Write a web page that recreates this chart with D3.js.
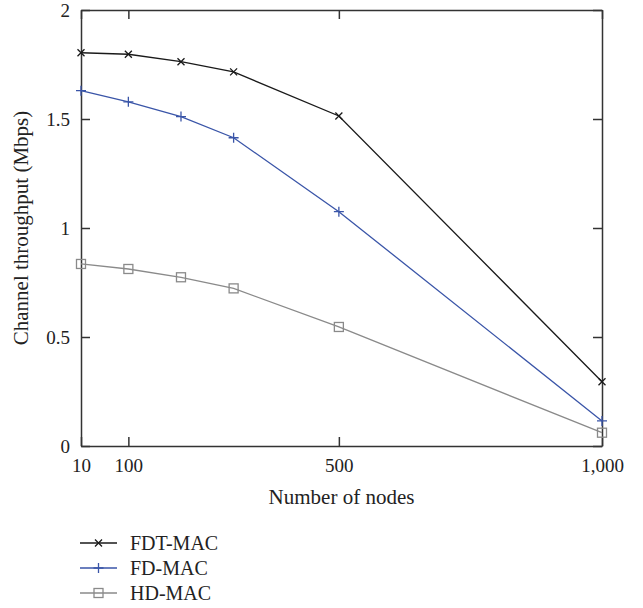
<!DOCTYPE html>
<html><head><meta charset="utf-8">
<script src="https://cdn.jsdelivr.net/npm/d3@7"></script>
<style>body{margin:0;background:#fff}svg{display:block}text{font-family:"Liberation Serif","DejaVu Serif",serif;fill:#222}</style>
</head><body><svg id="c" width="643" height="608"></svg>
<script>
const nodes = [10, 100, 200, 300, 500, 1000];
const fdtMac = [1.804, 1.797, 1.763, 1.716, 1.514, 0.295];
const fdMac = [1.630, 1.579, 1.511, 1.414, 1.075, 0.115];
const hdMac = [0.835, 0.812, 0.774, 0.723, 0.546, 0.061];
const xTicks = [10, 100, 500, 1000];
const xTickLabels = ["10", "100", "500", "1,000"];
const yTicks = [0, 0.5, 1, 1.5, 2];
const yTickLabels = ["0", "0.5", "1", "1.5", "2"];
const seriesNames = ["FDT-MAC", "FD-MAC", "HD-MAC"];

const svg = d3.select("#c");
const L = 81, R = 602, T = 10, B = 446;
const x = d3.scaleLinear().domain([10, 1000]).range([L, R]);
const y = d3.scaleLinear().domain([0, 2]).range([B, T]);

const series = [
  {name: seriesNames[0], vals: fdtMac, color: "#1a1a1a", marker: "x"},
  {name: seriesNames[1], vals: fdMac, color: "#3a55a8", marker: "plus"},
  {name: seriesNames[2], vals: hdMac, color: "#8a8a8a", marker: "square"}
];

const axisColor = "#333";
function styleAxis(g){
  g.selectAll("path,line").attr("stroke", axisColor).attr("stroke-width", 1.5);
  g.selectAll("text").style("font-size", "19px").attr("fill", "#222");
}
svg.append("g").attr("transform", `translate(0,${B})`)
  .call(d3.axisBottom(x).tickValues(xTicks).tickFormat((d,i)=>xTickLabels[i]).tickSizeInner(-9).tickSizeOuter(0).tickPadding(13))
  .call(styleAxis);
svg.append("g").attr("transform", `translate(0,${T})`)
  .call(d3.axisTop(x).tickValues(xTicks).tickFormat("").tickSizeInner(-9).tickSizeOuter(0))
  .call(styleAxis);
svg.append("g").attr("transform", `translate(${L},0)`)
  .call(d3.axisLeft(y).tickValues(yTicks).tickFormat((d,i)=>yTickLabels[i]).tickSizeInner(-9).tickSizeOuter(0).tickPadding(11))
  .call(styleAxis);
svg.append("g").attr("transform", `translate(${R},0)`)
  .call(d3.axisRight(y).tickValues(yTicks).tickFormat("").tickSizeInner(-9).tickSizeOuter(0))
  .call(styleAxis);

svg.append("text").attr("x", (L+R)/2).attr("y", 504).attr("text-anchor", "middle")
  .style("font-size", "21px").text("Number of nodes");
svg.append("text").attr("transform", `translate(28,${(T+B)/2}) rotate(-90)`).attr("text-anchor", "middle")
  .style("font-size", "21px").text("Channel throughput (Mbps)");

function drawMarker(g, type, cx, cy, color){
  if(type === "x"){
    const s = 3.5;
    g.append("path").attr("d", `M${cx-s},${cy-s}L${cx+s},${cy+s}M${cx-s},${cy+s}L${cx+s},${cy-s}`)
      .attr("stroke", color).attr("stroke-width", 1.3).attr("fill", "none");
  } else if(type === "plus"){
    const s = 5;
    g.append("path").attr("d", `M${cx-s},${cy}L${cx+s},${cy}M${cx},${cy-s}L${cx},${cy+s}`)
      .attr("stroke", color).attr("stroke-width", 1.3).attr("fill", "none");
  } else {
    const s = 4.5;
    g.append("rect").attr("x", cx-s).attr("y", cy-s).attr("width", 2*s).attr("height", 2*s)
      .attr("stroke", color).attr("stroke-width", 1.3).attr("fill", "none");
  }
}

const line = d3.line().x(d=>x(d[0])).y(d=>y(d[1]));
series.forEach(s => {
  const pts = nodes.map((n,i)=>[n, s.vals[i]]);
  const g = svg.append("g");
  g.append("path").attr("d", line(pts)).attr("fill", "none").attr("stroke", s.color).attr("stroke-width", 1.3);
  pts.forEach(p => drawMarker(g, s.marker, x(p[0]), y(p[1]), s.color));
});

const legendY = [543, 568, 593];
series.forEach((s,i) => {
  const g = svg.append("g");
  g.append("line").attr("x1", 80).attr("x2", 117).attr("y1", legendY[i]).attr("y2", legendY[i])
    .attr("stroke", s.color).attr("stroke-width", 1.3);
  drawMarker(g, s.marker, 98.5, legendY[i], s.color);
  g.append("text").attr("x", 130).attr("y", legendY[i]).attr("dy", "0.35em").style("font-size", "20px").text(s.name);
});
</script></body></html>
